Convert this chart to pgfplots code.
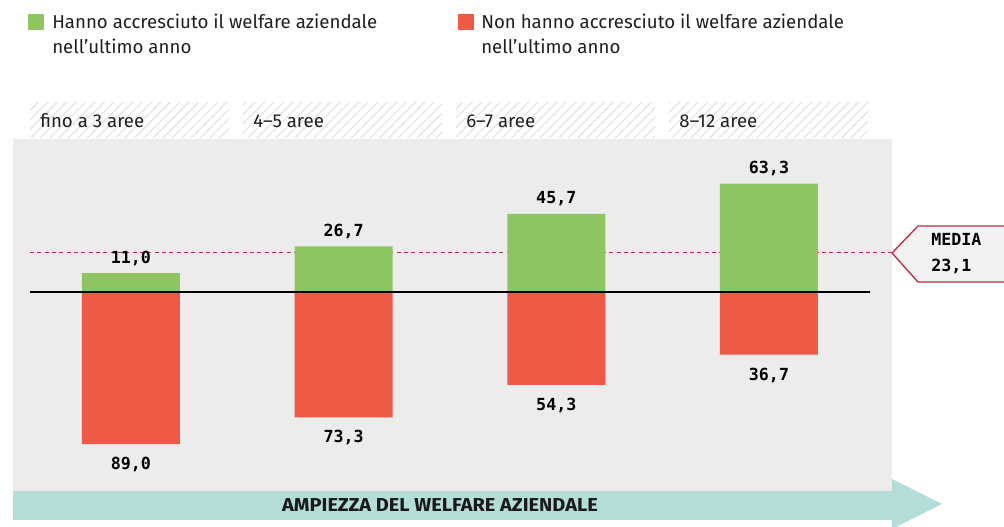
\documentclass[border=0pt]{standalone}
\usepackage{fontspec}
\setmainfont{Fira Sans}
\newfontfamily\numfont{DejaVu Sans Mono}
\usepackage{pgfplots}
\pgfplotsset{compat=1.18}
\usetikzlibrary{patterns.meta}
\definecolor{cgreen}{HTML}{8FC462}
\definecolor{cred}{HTML}{EE5A45}
\definecolor{cbg}{HTML}{ECECEC}
\definecolor{cteal}{HTML}{B3DDD6}
\definecolor{cmed}{HTML}{B82E45}
\definecolor{chatch}{HTML}{DADADA}
\definecolor{cbox}{HTML}{F2F2F2}
\begin{document}
\begin{tikzpicture}
\begin{scope}[x=0.75pt,y=0.75pt]
\useasboundingbox (0,0) rectangle (1004,527);
% legend
\fill[cgreen] (28,497) rectangle (44,513);
\node[anchor=base west, inner sep=0, font=\fontsize{14}{16}\selectfont, text=black!88] at (52,498) {Hanno accresciuto il welfare aziendale};
\node[anchor=base west, inner sep=0, font=\fontsize{14}{16}\selectfont, text=black!88] at (52,473) {nell’ultimo anno};
\fill[cred] (458,497) rectangle (474,513);
\node[anchor=base west, inner sep=0, font=\fontsize{14}{16}\selectfont, text=black!88] at (481,498) {Non hanno accresciuto il welfare aziendale};
\node[anchor=base west, inner sep=0, font=\fontsize{14}{16}\selectfont, text=black!88] at (481,473) {nell’ultimo anno};
% background
\fill[cbg] (13,36) rectangle (892,388);
% headers
\foreach \xa/\lab in {30/fino a 3 aree, 243/4--5 aree, 456/6--7 aree, 669/8--12 aree} {
  \fill[pattern={Lines[angle=45,distance=5pt,line width=0.6pt]}, pattern color=chatch] (\xa,389) rectangle ++(199,35);
  \node[anchor=base west, inner sep=0, font=\fontsize{14}{16}\selectfont, text=black!88] at (\xa+10,399) {\lab};
}
% arrow
\fill[cteal] (13,7) -- (892,7) -- (892,-2) -- (942,23) -- (892,48) -- (892,36) -- (13,36) -- cycle;
\node[font=\bfseries\fontsize{14}{15}\selectfont, text=black!90] at (440,21.5) {\scalebox{1.07}[1]{AMPIEZZA DEL WELFARE AZIENDALE}};
% media box
\filldraw[fill=cbox, draw=cmed, line width=1pt] (892,274) -- (918,301) -- (1010,301) -- (1010,245) -- (918,245) -- cycle;
\node[anchor=base west, inner sep=0, font=\numfont\bfseries\fontsize{12.5}{15}\selectfont] at (931,281) {MEDIA};
\node[anchor=base west, inner sep=0, font=\numfont\bfseries\fontsize{12.5}{15}\selectfont] at (931,255) {23,1};
\end{scope}
\begin{axis}[at={(10.5pt,27pt)}, anchor=south west, x=159.5pt, y=1.2825pt,
  xmin=-0.55, xmax=3.583, ymin=-116.4, ymax=89.5, hide axis, clip=false,
  /pgf/number format/.cd, fixed, fixed zerofill, precision=1, use comma, assume math mode=true]
\addplot[cmed, dash pattern=on 3pt off 2.5pt, line width=0.9pt] coordinates {(-0.475,23.1) (3.583,23.1)};
\addplot[ybar, bar width=73.5pt, bar shift=0pt, fill=cgreen, draw=none,
  point meta=explicit, nodes near coords,
  every node near coord/.append style={anchor=base, inner sep=0, yshift=7.5pt, font=\numfont\bfseries\fontsize{12.5}{15}\selectfont, text=black}]
  coordinates {(0,11.0) [11.0] (1,26.7) [26.7] (2,45.7) [45.7] (3,63.3) [63.3]};
\addplot[ybar, bar width=73.5pt, bar shift=0pt, fill=cred, draw=none,
  point meta=explicit, nodes near coords,
  every node near coord/.append style={anchor=north, inner sep=0, yshift=-9.75pt, font=\numfont\bfseries\fontsize{12.5}{15}\selectfont, text=black}]
  coordinates {(0,-89.0) [89.0] (1,-73.3) [73.3] (2,-54.3) [54.3] (3,-36.7) [36.7]};
\addplot[black, line width=1.5pt] coordinates {(-0.475,0) (3.474,0)};
\end{axis}
\end{tikzpicture}
\end{document}
